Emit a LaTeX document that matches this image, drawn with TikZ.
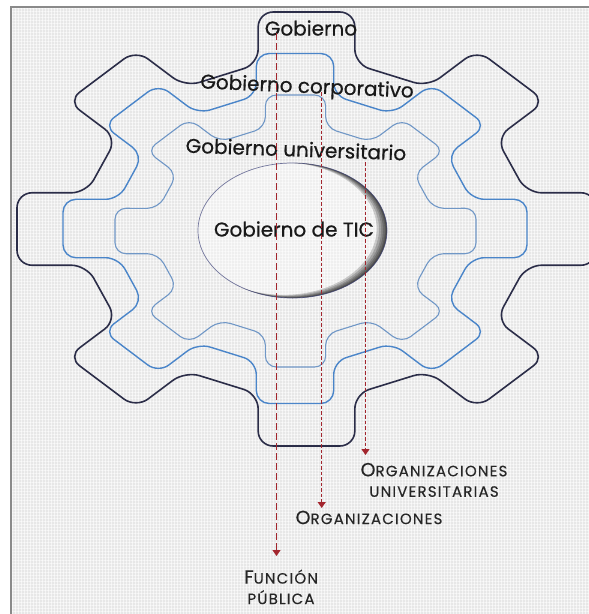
\documentclass[tikz,border=0pt]{standalone}
\usepackage{fontspec}
\setmainfont{Poppins}
\newfontfamily\gearfont[FakeBold=0.6]{Poppins}
\newfontfamily\labfont[LetterSpace=8,FakeBold=0.3]{Poppins}
\usetikzlibrary{arrows.meta,calc,shapes.geometric,patterns.meta}
\definecolor{navy}{HTML}{2B2D48}
\definecolor{rimnavy}{HTML}{3C4178}
\definecolor{midblue}{HTML}{4A85C9}
\definecolor{litblue}{HTML}{7097C6}
\definecolor{dashred}{HTML}{A3262E}
\definecolor{canvas}{HTML}{E7E7E7}
\definecolor{framegray}{HTML}{8A8A8A}
% gear: #1 style, #2 cx, #3 cy, #4 rx, #5 ry
\newcommand\drawgear[5]{%
  \begin{scope}[shift={(#2,#3)},x=#4pt,y=#5pt]
    \draw[#1] (-9.48:1.0139)
      \foreach \a in {0,45,...,270}{
        -- (\a+9.48:1.0139) -- (\a+12.39:0.778) -- (\a+32.61:0.778) -- (\a+35.52:1.0139)}
      -- (324.48:1.0139) -- (327.39:0.778) -- (347.61:0.778) -- cycle;
  \end{scope}}
\newcommand\bigc[1]{{\fontsize{19}{19}\selectfont #1}}
\tikzset{
  outergear/.style={draw=navy,line width=1.6pt,rounded corners=15pt},
  midgear/.style={draw=midblue,line width=1.4pt,rounded corners=13pt},
  innergear/.style={draw=litblue,line width=1.1pt,rounded corners=11pt},
  geartext/.style={font=\gearfont\fontsize{20}{22}\selectfont,text=black!90,inner sep=0pt},
  labeltext/.style={font=\labfont\fontsize{15}{20.5}\selectfont,text=black!85,
    align=center,inner sep=0pt,anchor=north},
  longdash/.style={draw=dashred,line width=1.1pt,dash pattern=on 7pt off 3pt,
    -{Triangle[width=8pt,length=6pt]}},
  shortdash/.style={draw=dashred,line width=1.1pt,dash pattern=on 3.5pt off 2pt,
    -{Triangle[width=8pt,length=6pt]}}
}
\begin{document}
\begin{tikzpicture}[x=1pt,y=-1pt]
  \useasboundingbox (0,0) rectangle (589,614);
  \clip (0,0) rectangle (589,614);
  % background with a light woven texture
  \fill[white] (0,0) rectangle (589,614);
  \fill[canvas] (11,7) rectangle (589,614);
  \fill[pattern={Lines[angle=0,distance=3pt,line width=0.9pt]},pattern color=white,
    opacity=0.55] (11,7) rectangle (589,614);
  \fill[pattern={Lines[angle=90,distance=3pt,line width=0.9pt]},pattern color=white,
    opacity=0.55] (11,7) rectangle (589,614);
  \draw[framegray,line width=2.5pt] (11,614) -- (11,7) -- (589,7);
  % gears
  \drawgear{outergear}{306.5}{229}{289.5}{217}
  \drawgear{midgear}{295}{228.5}{232}{175}
  \drawgear{innergear}{295.5}{231}{180.5}{136}
  % central ellipse with shadowed rim
  \begin{scope}
    \clip (292.5,230.5) ellipse [x radius=94.5, y radius=67.5];
    \fill[white,opacity=0.35] (292.5,230.5) ellipse [x radius=94.5, y radius=67.5];
    \foreach \d in {1,2,3.5,5,7,9}{
      \fill[black,opacity=0.18,even odd rule]
        (292.5,230.5) ellipse [x radius=100, y radius=74]
        (292.5-\d,230.5-0.2*\d) ellipse [x radius=94.5-0.15*\d, y radius=67.5-0.15*\d];
    }
  \end{scope}
  \node[draw=rimnavy,draw opacity=0.7,line width=0.7pt,ellipse,minimum width=189pt,
    minimum height=135pt,inner sep=0pt] (orb) at (292.5,230.5) {};
  % texts
  \node[geartext] (gob) at (311,28) {Gobierno};
  \node[geartext,rotate=-2.5] (corp) at (307,88) {Gobierno corporativo};
  \node[geartext,rotate=-2] (univ) at (296,149) {Gobierno universitario};
  \node[geartext] (tic) at (294,229) {Gobierno de TIC};
  % labels
  \node[labeltext] (lab1) at (434,462.7) {\bigc{O}RGANIZACIONES\\UNIVERSITARIAS};
  \node[labeltext] (lab2) at (369,510.5) {\bigc{O}RGANIZACIONES};
  \node[labeltext] (lab3) at (281,569.5) {\bigc{F}UNCIÓN\\PÚBLICA};
  % connectors
  \coordinate (s1) at (276.5,33);
  \coordinate (s2) at (321.7,92);
  \coordinate (s3) at (365.5,162);
  \draw[longdash,shorten >=13.5pt] (s1) -- (s1 |- lab3.north);
  \draw[shortdash,shorten >=2.5pt] (s2) -- (s2 |- lab2.north);
  \draw[shortdash,shorten >=7.7pt] (s3) -- (s3 |- lab1.north);
\end{tikzpicture}
\end{document}
